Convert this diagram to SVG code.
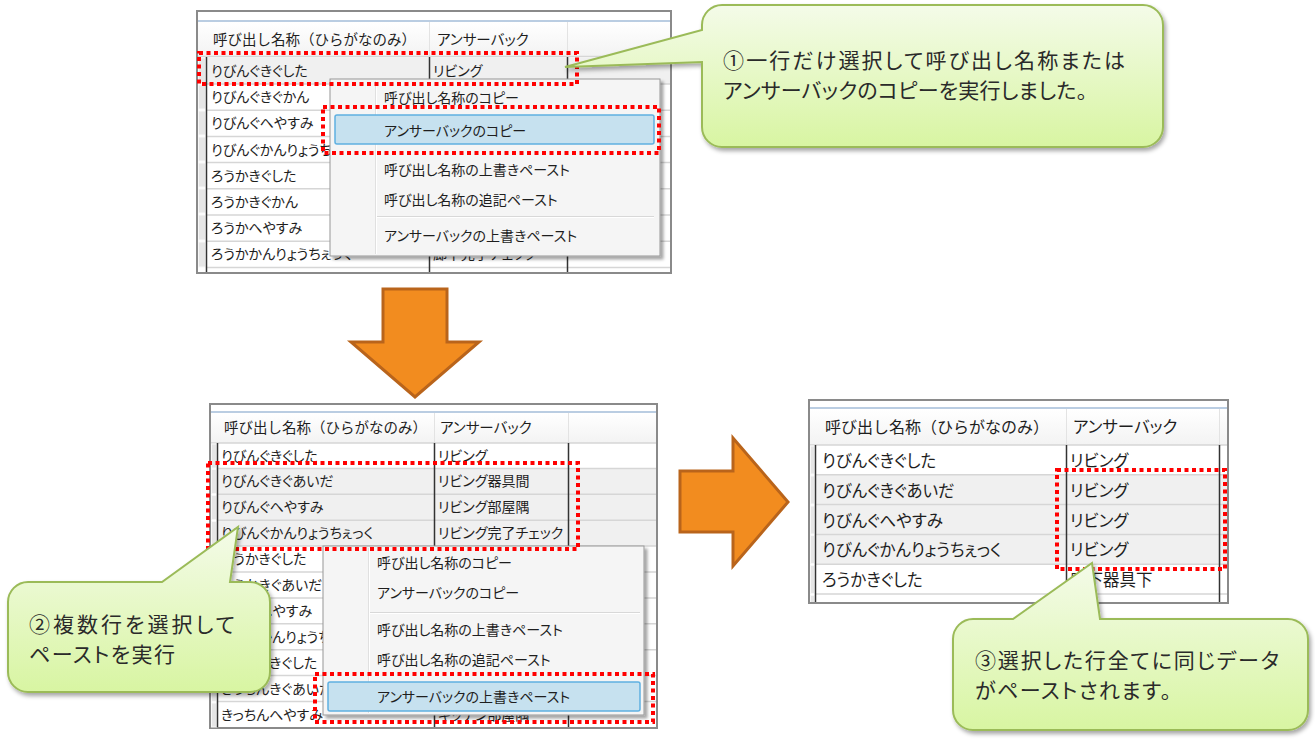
<svg xmlns="http://www.w3.org/2000/svg" width="1315" height="741" viewBox="0 0 1315 741">
<defs>
<linearGradient id="cg" x1="0" y1="0" x2="0" y2="1">
<stop offset="0" stop-color="#f4fbe9"/>
<stop offset="1" stop-color="#d8f5a2"/>
</linearGradient>
<linearGradient id="hdr" x1="0" y1="0" x2="0" y2="1">
<stop offset="0" stop-color="#ffffff"/>
<stop offset="1" stop-color="#f3f3f3"/>
</linearGradient>
<filter id="cs" x="-10%" y="-10%" width="125%" height="130%">
<feDropShadow dx="2" dy="3" stdDeviation="2" flood-color="#000" flood-opacity="0.35"/>
</filter>
<filter id="ms" x="-5%" y="-5%" width="115%" height="115%">
<feDropShadow dx="3" dy="3" stdDeviation="1.5" flood-color="#000" flood-opacity="0.35"/>
</filter>
<clipPath id="c3"><rect x="810" y="401" width="417" height="201"/></clipPath>
<style>
.t{font-family:"Noto Sans CJK JP","Noto Sans",sans-serif;font-feature-settings:"palt";fill:#1e1e1e}
.h{font-family:"Noto Sans CJK JP","Noto Sans",sans-serif;fill:#1e1e1e}
.s14{font-size:14px}
.s16{font-size:16.5px}
.ct{font-family:"Noto Sans CJK JP","Noto Sans",sans-serif;font-feature-settings:"palt";font-size:21px;fill:#2a2a2a}
.frame{fill:#fff;stroke:#8a8a8a;stroke-width:2}
.blue{stroke:#a3bdd8;stroke-width:1.5}
.rowl{stroke:#d6d6d6;stroke-width:1.5}
.dark{stroke:#333;stroke-width:1.5}
.hsep{stroke:#e3e3e3;stroke-width:1}
.sel{fill:#f0f0f0}
.stub{fill:#e6e6e6;stroke:#f8f8f8;stroke-width:1}
.menu{fill:#f5f5f5;stroke:#979797;stroke-width:1}
.gut{stroke:#e0e0e0;stroke-width:1}
.hl{fill:#c6e1ef;stroke:#5fb0e1;stroke-width:1.5}
.red{fill:none;stroke:#ff0000;stroke-width:4;stroke-dasharray:4 3.5}
.call{fill:url(#cg);stroke:#9bbb59;stroke-width:2;filter:url(#cs)}
.arr{fill:#f28c1f;stroke:#b9641b;stroke-width:3;stroke-linejoin:miter}
</style>
</defs>
<rect width="1315" height="741" fill="#fff"/>

<g id="screen1">
<rect class="frame" x="197" y="11" width="474" height="262"/>
<line class="blue" x1="198" y1="21" x2="670" y2="21"/>
<rect x="198" y="22" width="472" height="34" fill="url(#hdr)"/>
<line class="hsep" x1="429.5" y1="22" x2="429.5" y2="56"/>
<line class="hsep" x1="567.5" y1="22" x2="567.5" y2="56"/>
<line class="rowl" x1="198" y1="56.5" x2="670" y2="56.5"/>
<text class="h" x="213" y="45" style="font-size:14.5px">呼び出し名称（ひらがなのみ）</text>
<text class="t" x="437" y="45" style="font-size:14.5px">アンサーバック</text>
<rect class="sel" x="207" y="57.5" width="463" height="26.5"/>
<g>
<rect class="stub" x="198.5" y="58" width="7" height="25"/>
<rect class="stub" x="198.5" y="85" width="7" height="24"/>
<rect class="stub" x="198.5" y="111" width="7" height="24"/>
<rect class="stub" x="198.5" y="137" width="7" height="24"/>
<rect class="stub" x="198.5" y="163" width="7" height="24"/>
<rect class="stub" x="198.5" y="189" width="7" height="24"/>
<rect class="stub" x="198.5" y="215" width="7" height="25"/>
<rect class="stub" x="198.5" y="242" width="7" height="25"/>
</g>
<line class="rowl" x1="206" y1="84" x2="670" y2="84"/>
<line class="rowl" x1="206" y1="110.2" x2="670" y2="110.2"/>
<line class="rowl" x1="206" y1="136.4" x2="670" y2="136.4"/>
<line class="rowl" x1="206" y1="162.6" x2="670" y2="162.6"/>
<line class="rowl" x1="206" y1="188.8" x2="670" y2="188.8"/>
<line class="rowl" x1="206" y1="215" x2="670" y2="215"/>
<line class="rowl" x1="206" y1="241.2" x2="670" y2="241.2"/>
<line class="rowl" x1="206" y1="267.4" x2="670" y2="267.4"/>
<line class="dark" x1="206.5" y1="57" x2="206.5" y2="272"/>
<line class="dark" x1="429.5" y1="57" x2="429.5" y2="272"/>
<line class="dark" x1="567.5" y1="57" x2="567.5" y2="272"/>
<text class="t s14" x="211" y="76">りびんぐきぐした</text>
<text class="t s14" x="211" y="102.2">りびんぐきぐかん</text>
<text class="t s14" x="211" y="128.4">りびんぐへやすみ</text>
<text class="t s14" x="211" y="154.6">りびんぐかんりょうちぇっく</text>
<text class="t s14" x="211" y="180.8">ろうかきぐした</text>
<text class="t s14" x="211" y="207">ろうかきぐかん</text>
<text class="t s14" x="211" y="233.2">ろうかへやすみ</text>
<text class="t s14" x="211" y="259.4">ろうかかんりょうちぇっく</text>
<text class="t s14" x="433" y="76">リビング</text>
<text class="t s14" x="433" y="259.4">廊下完了チェック</text>
</g>

<g id="menu1">
<rect class="menu" x="330" y="79" width="330" height="177" style="filter:url(#ms)"/>
<line class="gut" x1="375.5" y1="81" x2="375.5" y2="254"/>
<line x1="376.5" y1="81" x2="376.5" y2="254" stroke="#fff"/>
<rect class="hl" x="335" y="115" width="319" height="29" rx="2"/>
<line x1="377" y1="216.5" x2="654" y2="216.5" stroke="#d8d8d8"/>
<line x1="377" y1="217.5" x2="654" y2="217.5" stroke="#fff"/>
<text class="t s14" x="384" y="103">呼び出し名称のコピー</text>
<text class="t s14" x="384" y="136">アンサーバックのコピー</text>
<text class="t s14" x="384" y="175">呼び出し名称の上書きペースト</text>
<text class="t s14" x="384" y="205">呼び出し名称の追記ペースト</text>
<text class="t s14" x="384" y="241">アンサーバックの上書きペースト</text>
</g>
<g id="select1">
<rect class="red" x="199" y="53" width="378" height="31"/>
<rect class="red" x="323" y="107" width="336" height="46"/>
</g>

<g id="callout1">
<path class="call" d="M722,5 H1143 A20,20 0 0 1 1163,25 V127 A20,20 0 0 1 1143,147 H722 A20,20 0 0 1 702,127 V62 L565,67 L702,30 V25 A20,20 0 0 1 722,5 Z"/>
<text class="ct" x="723" y="68" textLength="402" lengthAdjust="spacing">①一行だけ選択して呼び出し名称または</text>
<text class="ct" x="723" y="98" textLength="364" lengthAdjust="spacing">アンサーバックのコピーを実行しました。</text>
</g>

<g id="screen2">
<rect class="frame" x="210" y="404" width="447" height="324"/>
<line class="blue" x1="211" y1="412" x2="656" y2="412"/>
<rect x="211" y="413" width="445" height="30" fill="url(#hdr)"/>
<line class="hsep" x1="434.5" y1="413" x2="434.5" y2="443"/>
<line class="hsep" x1="568.5" y1="413" x2="568.5" y2="443"/>
<line class="rowl" x1="211" y1="443" x2="656" y2="443"/>
<text class="h" x="224" y="433" style="font-size:14.5px">呼び出し名称（ひらがなのみ）</text>
<text class="t" x="440" y="433" style="font-size:14.5px">アンサーバック</text>
<rect class="sel" x="218" y="468.4" width="438" height="77.7"/>
<g>
<rect class="stub" x="211.5" y="444" width="5" height="24"/>
<rect class="stub" x="211.5" y="469.5" width="5" height="24"/>
<rect class="stub" x="211.5" y="495.5" width="5" height="24"/>
<rect class="stub" x="211.5" y="521.5" width="5" height="24"/>
<rect class="stub" x="211.5" y="547.5" width="5" height="24"/>
<rect class="stub" x="211.5" y="573.5" width="5" height="24"/>
<rect class="stub" x="211.5" y="599.5" width="5" height="24"/>
<rect class="stub" x="211.5" y="625.5" width="5" height="24"/>
<rect class="stub" x="211.5" y="651.5" width="5" height="24"/>
<rect class="stub" x="211.5" y="677.5" width="5" height="24"/>
<rect class="stub" x="211.5" y="703" width="5" height="24"/>
</g>
<line class="rowl" x1="217" y1="468.4" x2="656" y2="468.4"/>
<line class="rowl" x1="217" y1="494.3" x2="656" y2="494.3"/>
<line class="rowl" x1="217" y1="520.2" x2="656" y2="520.2"/>
<line class="rowl" x1="217" y1="546.1" x2="656" y2="546.1"/>
<line class="rowl" x1="217" y1="572" x2="656" y2="572"/>
<line class="rowl" x1="217" y1="597.9" x2="656" y2="597.9"/>
<line class="rowl" x1="217" y1="623.8" x2="656" y2="623.8"/>
<line class="rowl" x1="217" y1="649.7" x2="656" y2="649.7"/>
<line class="rowl" x1="217" y1="675.6" x2="656" y2="675.6"/>
<line class="rowl" x1="217" y1="701.5" x2="656" y2="701.5"/>
<line class="dark" x1="217.5" y1="443" x2="217.5" y2="727"/>
<line class="dark" x1="434.5" y1="443" x2="434.5" y2="727"/>
<line class="dark" x1="568.5" y1="443" x2="568.5" y2="727"/>
<text class="t s14" x="221" y="460.5">りびんぐきぐした</text>
<text class="t s14" x="221" y="486.4">りびんぐきぐあいだ</text>
<text class="t s14" x="221" y="512.3">りびんぐへやすみ</text>
<text class="t s14" x="221" y="538.2">りびんぐかんりょうちぇっく</text>
<text class="t s14" x="221" y="564.1">ろうかきぐした</text>
<text class="t s14" x="221" y="590">ろうかきぐあいだ</text>
<text class="t s14" x="221" y="615.9">ろうかへやすみ</text>
<text class="t s14" x="221" y="641.8">ろうかかんりょうちぇっく</text>
<text class="t s14" x="221" y="667.7">きっちんきぐした</text>
<text class="t s14" x="221" y="693.6">きっちんきぐあいだ</text>
<text class="t s14" x="221" y="719.5">きっちんへやすみ</text>
<text class="t s14" x="438" y="460.5">リビング</text>
<text class="t s14" x="438" y="486.4">リビング器具間</text>
<text class="t s14" x="438" y="512.3">リビング部屋隅</text>
<text class="t s14" x="438" y="538.2">リビング完了チェック</text>
<text class="t s14" x="438" y="719.5">キッチン部屋隅</text>
</g>

<g id="menu2">
<rect class="menu" x="323" y="546" width="321" height="169" style="filter:url(#ms)"/>
<line class="gut" x1="368.5" y1="548" x2="368.5" y2="713"/>
<line x1="369.5" y1="548" x2="369.5" y2="713" stroke="#fff"/>
<line x1="370" y1="612.5" x2="640" y2="612.5" stroke="#d8d8d8"/>
<line x1="370" y1="613.5" x2="640" y2="613.5" stroke="#fff"/>
<rect class="hl" x="328" y="682" width="312" height="29" rx="2"/>
<text class="t s14" x="377" y="568">呼び出し名称のコピー</text>
<text class="t s14" x="377" y="598">アンサーバックのコピー</text>
<text class="t s14" x="377" y="635">呼び出し名称の上書きペースト</text>
<text class="t s14" x="377" y="665">呼び出し名称の追記ペースト</text>
<text class="t s14" x="377" y="702">アンサーバックの上書きペースト</text>
</g>
<g id="select2">
<rect class="red" x="208" y="463" width="370" height="86"/>
<rect class="red" x="315" y="674" width="338" height="48"/>
</g>

<g id="callout2">
<path class="call" d="M28,582 H162 L238,527 L230,582 H250 A20,20 0 0 1 270,602 V672 A20,20 0 0 1 250,692 H28 A20,20 0 0 1 8,672 V602 A20,20 0 0 1 28,582 Z"/>
<text class="ct" x="29" y="632" textLength="206" lengthAdjust="spacing">②複数行を選択して</text>
<text class="ct" x="29" y="662" textLength="146" lengthAdjust="spacing">ペーストを実行</text>
</g>

<g id="screen3">
<rect class="frame" x="809" y="400" width="419" height="203"/>
<g clip-path="url(#c3)">
<line class="blue" x1="810" y1="408" x2="1227" y2="408"/>
<rect x="810" y="409" width="417" height="36" fill="url(#hdr)"/>
<line class="hsep" x1="1066.5" y1="409" x2="1066.5" y2="445"/>
<line class="hsep" x1="1219.5" y1="409" x2="1219.5" y2="445"/>
<line class="rowl" x1="810" y1="445" x2="1227" y2="445"/>
<text class="h" x="825" y="433" style="font-size:16px">呼び出し名称（ひらがなのみ）</text>
<text class="t s16" x="1073" y="433">アンサーバック</text>
<rect class="sel" x="816" y="474.8" width="411" height="89.4"/>
<rect class="stub" x="810.5" y="446" width="4" height="28"/>
<rect class="stub" x="810.5" y="476" width="4" height="28"/>
<rect class="stub" x="810.5" y="506" width="4" height="28"/>
<rect class="stub" x="810.5" y="535.5" width="4" height="28"/>
<rect class="stub" x="810.5" y="565.5" width="4" height="28"/>
<rect class="stub" x="810.5" y="595.5" width="4" height="8"/>
<line class="rowl" x1="815" y1="474.8" x2="1227" y2="474.8"/>
<line class="rowl" x1="815" y1="504.6" x2="1227" y2="504.6"/>
<line class="rowl" x1="815" y1="534.4" x2="1227" y2="534.4"/>
<line class="rowl" x1="815" y1="564.2" x2="1227" y2="564.2"/>
<line class="rowl" x1="815" y1="594" x2="1227" y2="594"/>
<line class="dark" x1="815.5" y1="445" x2="815.5" y2="603"/>
<line class="dark" x1="1066.5" y1="445" x2="1066.5" y2="603"/>
<line class="dark" x1="1219.5" y1="445" x2="1219.5" y2="603"/>
<text class="t s16" x="822" y="467">りびんぐきぐした</text>
<text class="t s16" x="822" y="496.8">りびんぐきぐあいだ</text>
<text class="t s16" x="822" y="526.6">りびんぐへやすみ</text>
<text class="t s16" x="822" y="556.4">りびんぐかんりょうちぇっく</text>
<text class="t s16" x="822" y="586.2">ろうかきぐした</text>
<text class="t s16" x="822" y="616">ろうかきぐあいだ</text>
<text class="t s16" x="1070" y="467">リビング</text>
<text class="t s16" x="1070" y="496.8">リビング</text>
<text class="t s16" x="1070" y="526.6">リビング</text>
<text class="t s16" x="1070" y="556.4">リビング</text>
<text class="t s16" x="1070" y="586.2">廊下器具下</text>
<text class="t s16" x="1070" y="616">廊下器具間</text>
</g>
</g>
<g id="select3">
<rect class="red" x="1057" y="470" width="168" height="99"/>
</g>

<g id="callout3">
<path class="call" d="M973,619 H1013 L1092,563 L1100,619 H1288 A20,20 0 0 1 1308,639 V710 A20,20 0 0 1 1288,730 H973 A20,20 0 0 1 953,710 V639 A20,20 0 0 1 973,619 Z"/>
<text class="ct" x="975" y="668" textLength="304" lengthAdjust="spacing">③選択した行全てに同じデータ</text>
<text class="ct" x="975" y="698" textLength="196" lengthAdjust="spacing">がペーストされます。</text>
</g>

<g id="connectors">
<path class="arr" d="M383,289 H447 V342 H479 L415,397 L351,342 H383 Z"/>
<path class="arr" d="M680,471 H733 V438 L788,502 L733,566 V532 H680 Z"/>
</g>
</svg>
